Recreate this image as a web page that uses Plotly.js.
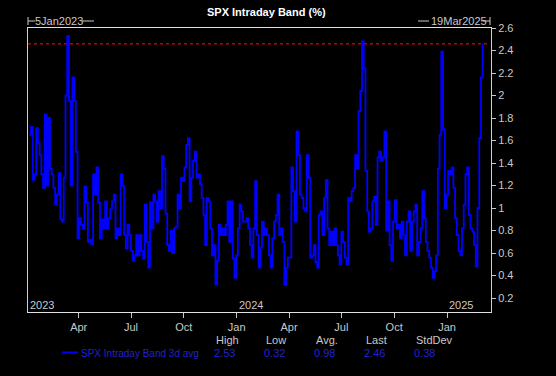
<!DOCTYPE html>
<html>
<head>
<meta charset="utf-8">
<script src="https://cdn.plot.ly/plotly-3.0.1.min.js"></script>
<style>
html,body{margin:0;padding:0;background:#000;}
#chart{width:556px;height:376px;}
</style>
</head>
<body>
<div id="chart"></div>
<script>
// ---- data ----
const seriesName = "SPX Intraday Band 3d avg";
const chartTitle = "SPX Intraday Band (%)";
const startDate = "2023-01-05";
const endDate = "2025-03-19";
const startLabel = "5Jan2023";
const endLabel = "19Mar2025";
const stepDays = 3;
const bandValues = [
1.65,1.72,1.25,1.30,1.71,1.58,1.47,1.30,1.18,1.83,
1.20,1.80,1.35,1.30,1.18,1.03,1.12,1.31,0.90,0.88,
1.27,2.00,2.53,1.95,1.20,2.16,1.95,1.50,0.73,0.91,
0.85,0.82,1.19,1.05,0.70,0.72,0.68,1.30,1.12,1.36,
1.05,0.73,0.90,0.82,1.06,0.82,0.91,0.99,1.06,1.12,
0.73,0.82,0.76,1.30,1.20,0.76,0.64,0.85,0.76,0.62,
0.53,0.58,0.76,0.58,0.76,0.62,0.55,
1.03,0.70,0.47,1.05,0.82,1.12,1.06,0.88,1.15,1.00,
1.46,1.35,0.95,0.67,0.62,0.80,0.60,0.82,0.83,1.12,
1.00,1.27,1.24,1.36,1.56,1.62,1.06,1.27,1.42,1.50,
1.27,1.30,1.21,1.09,0.94,0.67,1.09,1.06,0.82,0.58,
0.67,0.32,0.53,0.85,0.76,0.82,0.76,0.85,1.06,0.70,
1.06,0.55,0.38,0.58,0.82,1.03,0.97,0.88,0.88,0.91,
0.82,0.67,0.56,0.82,1.24,0.76,0.47,
0.65,0.88,0.76,0.82,0.76,0.58,0.47,0.73,0.88,0.94,
1.12,0.76,0.82,0.70,0.32,0.47,0.56,0.56,1.36,1.15,
0.88,1.68,1.47,1.12,1.09,1.00,0.97,1.47,1.27,0.56,
0.58,0.67,0.52,0.47,0.94,0.97,0.76,1.09,1.25,0.82,
0.67,0.79,0.67,0.82,0.67,0.58,0.50,0.79,0.70,0.56,
0.50,1.09,1.06,1.15,1.18,1.47,1.35,1.86,2.04,2.48,
2.24,1.33,0.97,0.79,0.82,1.06,1.10,
0.85,1.45,1.50,1.42,1.45,1.68,0.80,1.06,0.67,0.53,
0.88,1.07,0.82,0.85,0.73,0.88,0.76,0.58,0.88,0.97,
0.62,0.88,0.97,1.03,0.58,0.70,0.82,1.15,0.91,0.70,
0.62,0.56,0.47,0.38,0.44,0.58,1.35,1.65,2.39,1.70,
1.00,1.12,1.33,1.30,1.36,1.18,0.91,0.76,0.62,0.58,
0.82,1.03,1.30,1.36,0.94,0.82,0.79,0.67,0.48,1.00,
1.62,2.16,2.46
];
const tickDates = ["2023-04-01","2023-07-01","2023-10-01","2024-01-01","2024-04-01","2024-07-01","2024-10-01","2025-01-01"];
const tickLabels = ["Apr","Jul","Oct","Jan","Apr","Jul","Oct","Jan"];
const yearLabels = ["2023","2024","2025"];
const statLabels = ["High","Low","Avg.","Last","StdDev"];
const statValues = ["2.53","0.32","0.98","2.46","0.38"];
const lastValue = 2.46;

// ---- build dates (regular 3-day grid) ----
const t0 = Date.parse(startDate + "T00:00:00Z");
const bandDates = bandValues.map((_, i) => new Date(t0 + i * stepDays * 86400000).toISOString().slice(0, 10));

// ---- geometry helpers (pixel -> paper) ----
const L = 28, R = 491, T = 28, B = 312;
const px = x => (x - L) / (R - L);
const py = y => (B - y) / (B - T);

const FONT = "Liberation Sans, Arial, sans-serif";
const GREY = "#c8c8c8";
const BLUE = "#0000ff";
const LEG_BLUE = "#2020d0";

const trace = {
  type: "scatter", mode: "lines",
  x: bandDates, y: bandValues, name: seriesName,
  line: {color: BLUE, width: 1.8, shape: "hv"},
  hoverinfo: "x+y"
};

const shapes = [
  {type:"line", xref:"paper", yref:"y", x0:0, x1:px(489), y0:lastValue, y1:lastValue,
   line:{color:"#c00000", width:1.5, dash:"dot"}, layer:"below"},
  // top-left range marker
  {type:"line", xref:"paper", yref:"paper", x0:px(28), x1:px(28), y0:py(17), y1:py(25), line:{color:GREY, width:1}},
  {type:"line", xref:"paper", yref:"paper", x0:px(28), x1:px(35), y0:py(21), y1:py(21), line:{color:GREY, width:1}},
  {type:"line", xref:"paper", yref:"paper", x0:px(82), x1:px(94), y0:py(21), y1:py(21), line:{color:GREY, width:1}},
  // top-right range marker
  {type:"line", xref:"paper", yref:"paper", x0:px(418), x1:px(429), y0:py(21), y1:py(21), line:{color:GREY, width:1}},
  {type:"line", xref:"paper", yref:"paper", x0:px(483), x1:px(490), y0:py(21), y1:py(21), line:{color:GREY, width:1}},
  {type:"line", xref:"paper", yref:"paper", x0:px(490), x1:px(490), y0:py(17), y1:py(25), line:{color:GREY, width:1}},
  // legend line
  {type:"line", xref:"paper", yref:"paper", x0:px(62), x1:px(78), y0:py(352.5), y1:py(352.5), line:{color:BLUE, width:2}}
];

const annotations = [
  {text:"<b>" + chartTitle + "</b>", xref:"paper", yref:"paper", x:px(266), y:py(12),
   xanchor:"center", yanchor:"middle", showarrow:false, font:{family:FONT, size:11, color:"#ffffff"}},
  {text:startLabel, xref:"paper", yref:"paper", x:px(34), y:py(21), xanchor:"left", yanchor:"middle",
   showarrow:false, borderpad:0, font:{family:FONT, size:11, color:GREY}},
  {text:endLabel, xref:"paper", yref:"paper", x:px(429.5), y:py(21), xanchor:"left", yanchor:"middle",
   showarrow:false, borderpad:0, font:{family:FONT, size:11, color:GREY}},
  {text:seriesName, xref:"paper", yref:"paper", x:px(79.5), y:py(353), xanchor:"left", yanchor:"middle",
   showarrow:false, borderpad:0, font:{family:FONT, size:10, color:LEG_BLUE}}
];
const yearX = [29, 238, 448];
yearLabels.forEach((t, i) => annotations.push({
  text:t, xref:"paper", yref:"paper", x:px(yearX[i]), y:0, xanchor:"left", yanchor:"bottom",
  showarrow:false, borderpad:0, font:{family:FONT, size:11, color:GREY}
}));
statLabels.forEach((t, i) => {
  annotations.push({text:t, xref:"paper", yref:"paper", x:px(215 + 50*i), y:py(340), xanchor:"left", yanchor:"middle",
    showarrow:false, borderpad:0, font:{family:FONT, size:11, color:GREY}});
  annotations.push({text:statValues[i], xref:"paper", yref:"paper", x:px(212.5 + 50*i), y:py(353), xanchor:"left", yanchor:"middle",
    showarrow:false, borderpad:0, font:{family:FONT, size:11, color:LEG_BLUE}});
});

const layout = {
  width: 556, height: 376,
  margin: {l: L, r: 556 - R, t: T, b: 376 - B, pad: 0},
  paper_bgcolor: "#000000", plot_bgcolor: "#000000",
  showlegend: false,
  font: {family: FONT, size: 11, color: GREY},
  xaxis: {
    type: "date", range: ["2023-01-02 18:00", "2025-03-18 12:00"],
    tickmode: "array", tickvals: tickDates, ticktext: tickLabels,
    ticks: "outside", ticklen: 5, tickwidth: 1, tickcolor: GREY,
    showline: true, linecolor: "#e0e0e0", linewidth: 1, mirror: true,
    showgrid: false, zeroline: false,
    tickfont: {family: FONT, size: 11, color: GREY}
  },
  yaxis: {
    side: "right", range: [0.076, 2.6],
    tickmode: "linear", tick0: 0.2, dtick: 0.2,
    ticks: "outside", ticklen: 4, tickwidth: 1, tickcolor: GREY,
    showline: true, linecolor: "#d0d0d0", linewidth: 1, mirror: true,
    showgrid: false, zeroline: false,
    tickfont: {family: FONT, size: 11, color: GREY}
  },
  shapes: shapes,
  annotations: annotations
};

Plotly.newPlot("chart", [trace], layout, {displayModeBar: false, staticPlot: true});
</script>
</body>
</html>
